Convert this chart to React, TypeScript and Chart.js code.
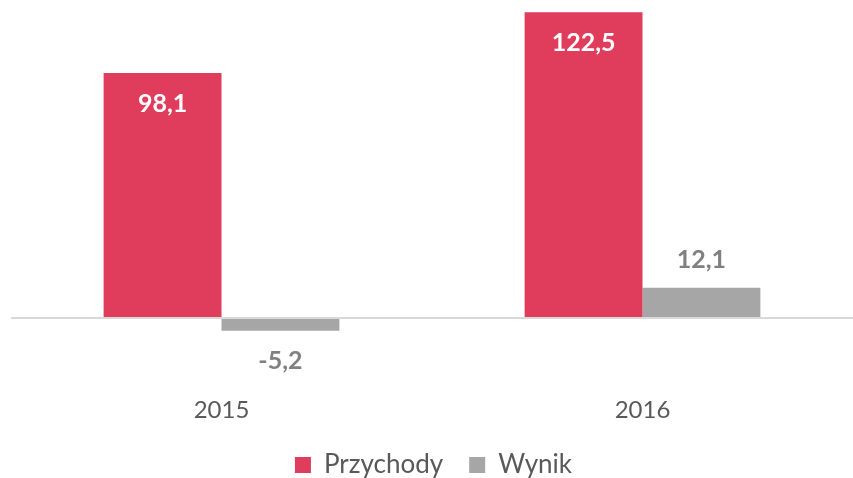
import React, { useEffect, useRef } from "react";
import { Chart, registerables } from "chart.js";

Chart.register(...registerables);

const categories = ["2015", "2016"];
const przychody = [98.1, 122.5];
const wynik = [-5.2, 12.1];
const seriesNames = ["Przychody", "Wynik"];

const RED = "#E03C5B";
const GRAY = "#A6A6A6";
const FONT = "Lato, 'Open Sans', sans-serif";

const fmt = (v: number) => v.toFixed(1).replace(".", ",");

const labelPlugin = {
  id: "barLabels",
  afterDatasetsDraw(chart: any) {
    const ctx = chart.ctx;
    ctx.save();
    ctx.font = `bold 25px ${FONT}`;
    ctx.textAlign = "center";
    ctx.textBaseline = "middle";
    chart.data.datasets.forEach((ds: any, di: number) => {
      const meta = chart.getDatasetMeta(di);
      meta.data.forEach((bar: any, i: number) => {
        const v = ds.data[i] as number;
        let y: number;
        if (di === 0) {
          ctx.fillStyle = "#FFFFFF";
          y = bar.y + 31;
        } else {
          ctx.fillStyle = "#808080";
          y = v >= 0 ? bar.y - 28 : bar.y + 30;
        }
        ctx.fillText(fmt(v), bar.x, y);
      });
    });
    ctx.restore();
  },
};

export default function App() {
  const ref = useRef<HTMLCanvasElement>(null);
  useEffect(() => {
    if (!ref.current) return;
    const chart = new Chart(ref.current, {
      type: "bar",
      data: {
        labels: categories,
        datasets: [
          { label: seriesNames[0], data: przychody, backgroundColor: RED },
          { label: seriesNames[1], data: wynik, backgroundColor: GRAY },
        ],
      },
      options: {
        animation: false,
        responsive: false,
        maintainAspectRatio: false,
        layout: { padding: { left: 11, right: -3, top: 6, bottom: -10 } },
        datasets: { bar: { categoryPercentage: 0.56, barPercentage: 1 } },
        scales: {
          x: {
            grid: { display: false, drawTicks: false },
            border: { display: false },
            ticks: { color: "#595959", font: { family: FONT, size: 24, lineHeight: 1 }, padding: 4 },
          },
          y: {
            display: true,
            min: -30.5,
            max: 125,
            ticks: { display: false, stepSize: 1 },
            border: { display: false },
            grid: {
              drawTicks: false,
              color: (c: any) => (c.tick && c.tick.value === 0 ? "#D9D9D9" : "rgba(0,0,0,0)"),
              lineWidth: 2,
            },
          },
        },
        plugins: {
          legend: {
            position: "bottom",
            labels: {
              color: "#595959",
              font: { family: FONT, size: 26, lineHeight: 1 },
              boxWidth: 16,
              boxHeight: 16,
              padding: 26,
            },
          },
          tooltip: { enabled: false },
        },
      },
      plugins: [labelPlugin],
    });
    return () => chart.destroy();
  }, []);
  return (
    <div style={{ position: "fixed", left: 0, top: 0, width: 853, height: 478 }}>
      <canvas ref={ref} width={853} height={478} />
    </div>
  );
}
